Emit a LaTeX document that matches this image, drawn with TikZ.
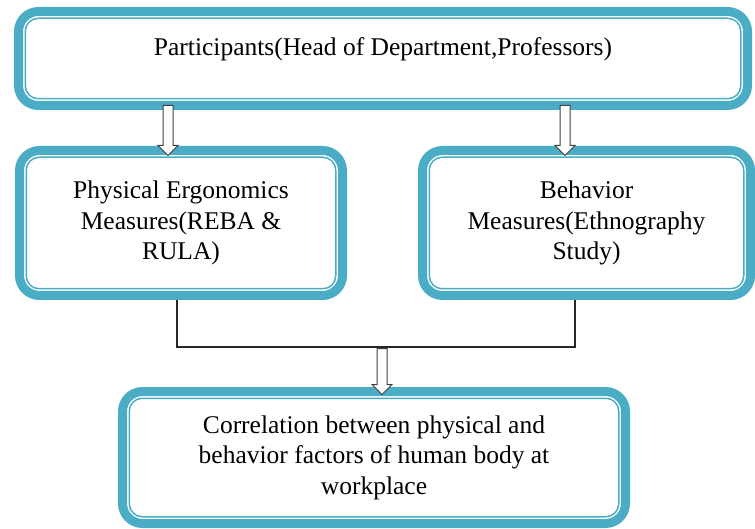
\documentclass[tikz,border=0pt]{standalone}
\usepackage{fontspec}
\setmainfont{Liberation Serif}
\usetikzlibrary{shapes.arrows}
\definecolor{boxblue}{RGB}{75,172,198}

\begin{document}
\begin{tikzpicture}[x=1pt, y=-1pt,
    box/.style={draw=boxblue, line width=9pt, rounded corners=20pt, outer sep=0pt,
        align=center, font=\fontsize{25.5}{30.5}\selectfont},
    rim/.style={draw=boxblue, line width=1.5pt, rounded corners=13pt},
    hollow/.style={single arrow, draw=black!75, fill=white, line width=1pt,
        shape border rotate=270, single arrow head extend=5pt,
        inner sep=4.5pt, outer sep=0pt}]

    \useasboundingbox (0,0) rectangle (755,529);

    % the four boxes
    \node[box, minimum width=729pt, minimum height=94pt, text depth=24pt] (part) at (383,58.5)
        {Participants(Head of Department,Professors)};
    \node[box, minimum width=323pt, minimum height=145pt] (phys) at (181,223)
        {Physical Ergonomics\\Measures(REBA \&\\RULA)};
    \node[box, minimum width=328pt, minimum height=145pt] (beh) at (586.5,223)
        {Behavior\\Measures(Ethnography\\Study)};
    \node[box, minimum width=503pt, minimum height=132pt] (corr) at (374,457.5)
        {Correlation between physical and\\behavior factors of human body at\\workplace};

    % thin inner line of each box
    \foreach \n in {part,phys,beh,corr}
        \draw[rim] ([xshift=6.75pt,yshift=-6.75pt]\n.north west) rectangle ([xshift=-6.75pt,yshift=6.75pt]\n.south east);

    % joining line
    \coordinate (join) at (382,347);
    \draw[line width=1.3pt, black!85] ([xshift=-4pt,yshift=-4.5pt]phys.south) |- (join)
        -| ([xshift=-11.5pt,yshift=-4.5pt]beh.south);

    % hollow arrows
    \node[hollow, minimum height=50pt] (a1) at (168,128) {};
    \node[hollow, minimum height=50pt] (a2) at (565,128) {};
    \node[hollow, minimum height=46pt] (a3) at (382,369) {};
\end{tikzpicture}
\end{document}
